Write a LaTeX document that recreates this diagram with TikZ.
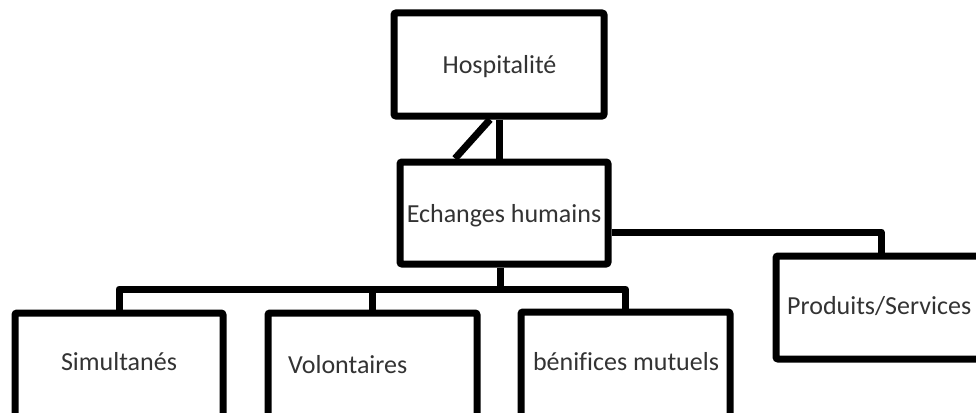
\documentclass[tikz,border=0pt]{standalone}
\usepackage{fontspec}
\setmainfont{Carlito}[Ligatures=NoCommon]
\begin{document}
\begin{tikzpicture}[x=1pt,y=-1pt,
  box/.style={draw, line width=7pt, rectangle, rounded corners=2pt, inner sep=0pt, fill=white},
  lbl/.style={font=\fontsize{26}{30}\selectfont, text=black!80, inner sep=0pt},
  conn/.style={draw, line width=7pt, line join=round}]
\useasboundingbox (0,0) rectangle (976,412);
\clip (0,0) rectangle (976,412);
% boxes
\node[box, minimum width=210pt, minimum height=103pt] (hosp) at (499,64.5) {};
\node[box, minimum width=208pt, minimum height=102pt] (ech) at (504,213) {};
\node[box, minimum width=208pt, minimum height=120pt] (sim) at (119,373) {};
\node[box, minimum width=209pt, minimum height=120pt] (vol) at (372.5,373) {};
\node[box, minimum width=209pt, minimum height=120pt] (ben) at (625.5,372) {};
\node[box, minimum width=210pt, minimum height=103pt] (prod) at (881,307.5) {};
% labels
\node[lbl, anchor=base] (hospt) at (499.5,73) {Hospitalité};
\node[lbl, anchor=base] (echt) at (504,222) {Echanges humains};
\node[lbl, anchor=base] (simt) at (119,370) {Simultanés};
\node[lbl, anchor=base west] (volt) at (288,373) {Volontaires};
\node[lbl, anchor=base] (bent) at (626,370) {bénifices mutuels};
\node[lbl, anchor=base west] (prodt) at (787,314) {Produits/Services};
% connectors
\coordinate (bar) at (500,289);
\draw[conn] (hosp.south) -- (hosp.south |- ech.north);
\draw[conn] ([xshift=-9pt]hosp.south) -- ([xshift=-49pt]ech.north);
\draw[conn] (sim.north) |- (bar) -| (ben.north);
\draw[conn] (vol.north) -- (vol.north |- bar);
\draw[conn] (bar |- ech.south) -- (bar);
\draw[conn] ([yshift=-19pt]ech.east) -| (prod.north);
\end{tikzpicture}
\end{document}
